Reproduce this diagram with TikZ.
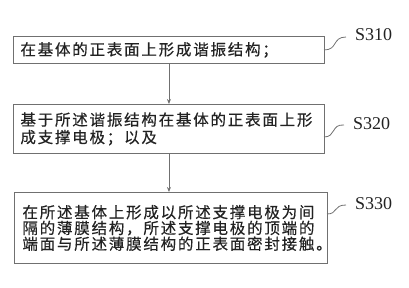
\documentclass[tikz,border=0pt]{standalone}
\usepackage{fontspec}
\setmainfont{Liberation Serif}
\newfontfamily\cjk[LetterSpace=11.5,FakeBold=0.4]{Noto Sans CJK SC}
\usetikzlibrary{arrows.meta}
\definecolor{boxgray}{HTML}{707070}
\definecolor{inkgray}{HTML}{222222}

\tikzset{
  stepbox/.style={draw=boxgray, line width=0.9pt, text=inkgray, align=left,
    text width=297pt, inner xsep=7pt, inner ysep=0pt, anchor=north west},
  steplab/.style={font=\fontsize{18}{18}\selectfont, text=inkgray, anchor=west, inner sep=0pt},
  flow/.style={draw=boxgray, line width=0.9pt, -{Stealth[length=5pt,width=4pt]}},
  hook/.style={draw=boxgray, line width=0.8pt}
}

\begin{document}
\begin{tikzpicture}[x=1pt,y=-1pt]
  \useasboundingbox (0,0) rectangle (409,287);
  % steps
  \node[stepbox, minimum height=27pt, font=\cjk\fontsize{15.5}{17}\selectfont] (box310) at (13,36)
    {在基体的正表面上形成谐振结构；};
  \node[stepbox, minimum height=49pt, font=\cjk\fontsize{15.5}{17.5}\selectfont] (box320) at (13,104)
    {基于所述谐振结构在基体的正表面上形\\成支撑电极；以及};
  \node[stepbox, minimum height=71pt, inner xsep=8pt, font=\cjk\fontsize{15.5}{15.8}\selectfont] (box330) at (14,192)
    {在所述基体上形成以所述支撑电极为间\\隔的薄膜结构，所述支撑电极的顶端的\\端面与所述薄膜结构的正表面密封接触。};
  % step numbers
  \node[steplab] (lab310) at (355,35) {S310};
  \node[steplab] (lab320) at (353,124) {S320};
  \node[steplab] (lab330) at (355,204) {S330};
  \coordinate (c310) at (324,50);
  \coordinate (c320) at (324,137);
  \coordinate (c330) at (327,214);
  \draw[hook] (c310) .. controls (338,50) and (332,37) .. ([xshift=-9pt,yshift=-2pt]lab310.west);
  \draw[hook] (c320) .. controls (336,137) and (331,124) .. ([xshift=-9pt,yshift=-1pt]lab320.west);
  \draw[hook] (c330) .. controls (338,214) and (333,205) .. ([xshift=-9pt,yshift=-1pt]lab330.west);
  % arrows
  \draw[flow] (box310.south) -- (box320.north);
  \draw[flow] (box320.south) -- (box320.south |- box330.north);
\end{tikzpicture}
\end{document}
